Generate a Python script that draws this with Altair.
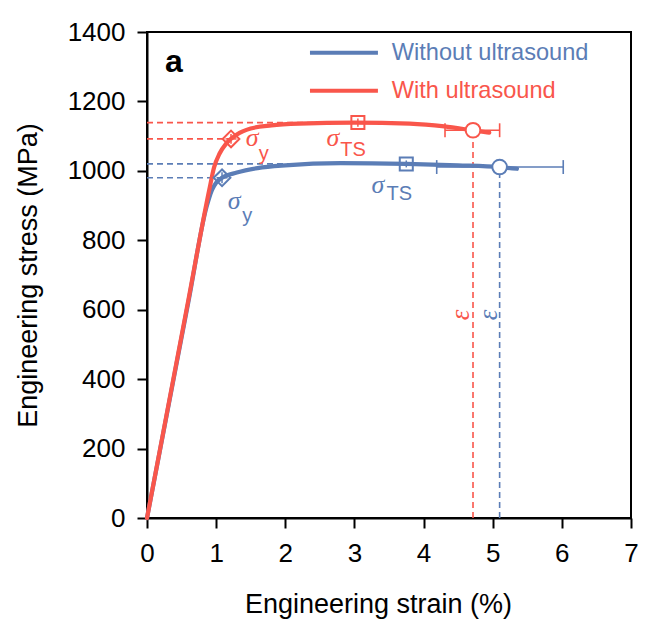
import altair as alt
import pandas as pd

BLUE = "#5b7db6"
RED = "#f9564b"
SANS = "Liberation Sans"
SERIF = "Liberation Serif"

series = ["Without ultrasound", "With ultrasound"]

# stress-strain curves (strain %, stress MPa)
strain_without = [0, 0.3, 0.6, 0.86, 0.94, 1.0, 1.085, 1.3, 1.6, 2.0, 2.8, 3.75, 4.5, 5.1, 5.35]
stress_without = [0, 312, 624, 895, 945, 966, 980, 995, 1008, 1016, 1022, 1020, 1016, 1011, 1006]
strain_with = [0, 0.3, 0.6, 0.9, 0.97, 1.05, 1.15, 1.3, 1.5, 1.8, 2.2, 3.0, 3.8, 4.3, 4.7, 4.95]
stress_with = [0, 315, 630, 945, 1010, 1050, 1080, 1105, 1122, 1131, 1136, 1139, 1136, 1128, 1117, 1110]

# yield points (sigma_y)
sy_strain = [1.085, 1.215]
sy_stress = [980, 1092]
sy_strain_err = [0.08, 0.08]
sy_stress_err = [16, 14]

# tensile strength points (sigma_TS)
ts_strain = [3.75, 3.05]
ts_stress = [1020, 1139]
ts_strain_err = [0.08, 0.08]
ts_stress_err = [10, 12]

# fracture points (epsilon)
ef_strain = [5.1, 4.715]
ef_stress = [1011, 1117]
ef_lo = [4.19, 4.31]
ef_hi = [6.02, 5.10]

x_ticks = [0, 1, 2, 3, 4, 5, 6, 7]
y_ticks = [0, 200, 400, 600, 800, 1000, 1200, 1400]

color = alt.Color("series:N", scale=alt.Scale(domain=series, range=[BLUE, RED]), legend=None)
xs = alt.Scale(domain=[0, 7], nice=False, zero=False)
ys = alt.Scale(domain=[0, 1400], nice=False, zero=False)

curve_rows = [{"series": series[0], "strain": a, "stress": b} for a, b in zip(strain_without, stress_without)]
curve_rows += [{"series": series[1], "strain": a, "stress": b} for a, b in zip(strain_with, stress_with)]
curves = pd.DataFrame(curve_rows)


def pts(xv, yv, xe, ye):
    return pd.DataFrame({"series": series, "x": xv, "y": yv,
                         "xlo": [a - e for a, e in zip(xv, xe)], "xhi": [a + e for a, e in zip(xv, xe)],
                         "ylo": [a - e for a, e in zip(yv, ye)], "yhi": [a + e for a, e in zip(yv, ye)],
                         "zero": [0, 0]})


sy = pts(sy_strain, sy_stress, sy_strain_err, sy_stress_err)
ts = pts(ts_strain, ts_stress, ts_strain_err, ts_stress_err)
CAP = 20
ef = pd.DataFrame({"series": series, "x": ef_strain, "y": ef_stress, "lo": ef_lo, "hi": ef_hi,
                   "zero": [0, 0],
                   "clo": [v - CAP for v in ef_stress], "chi": [v + CAP for v in ef_stress]})

X = lambda f: alt.X(f, scale=xs, axis=alt.Axis(values=x_ticks, format="d", title="Engineering strain (%)",
                                              titleX=231, titleY=94, titleBaseline="alphabetic",
                                              titleAlign="center", labelFlush=False))
Y = lambda f: alt.Y(f, scale=ys, axis=alt.Axis(values=y_ticks, format="d", title="Engineering stress (MPa)",
                                              titleX=-111, titleY=243, titleAngle=270,
                                              titleBaseline="alphabetic", titleAlign="center"))

dash = dict(strokeDash=[6, 4], strokeWidth=1.6)
layers = []
# dashed guides
for d in (sy, ts):
    layers.append(alt.Chart(d).mark_rule(**dash).encode(x=X("zero:Q"), x2="x:Q", y=Y("y:Q"), color=color))
layers.append(alt.Chart(ef).mark_rule(**dash).encode(x=X("x:Q"), y=Y("zero:Q"), y2="y:Q", color=color))

# curves
for s in series:
    layers.append(alt.Chart(curves).transform_filter(alt.datum.series == s)
                  .mark_line(strokeWidth=4.2, interpolate="monotone", strokeCap="round")
                  .encode(x=X("strain:Q"), y=Y("stress:Q"), color=color))

# small error bars on yield and TS markers
for d in (sy, ts):
    layers.append(alt.Chart(d).mark_rule(strokeWidth=1.5).encode(x=X("xlo:Q"), x2="xhi:Q", y=Y("y:Q"), color=color))
    layers.append(alt.Chart(d).mark_rule(strokeWidth=1.5).encode(x=X("x:Q"), y=Y("ylo:Q"), y2="yhi:Q", color=color))

# fracture error bars
layers.append(alt.Chart(ef).mark_rule(strokeWidth=1.6).encode(x=X("lo:Q"), x2="hi:Q", y=Y("y:Q"), color=color))
for c in ("lo", "hi"):
    layers.append(alt.Chart(ef).mark_rule(strokeWidth=1.6).encode(x=X(f"{c}:Q"), y=Y("clo:Q"), y2="chi:Q", color=color))

# markers
layers.append(alt.Chart(sy).mark_point(shape="diamond", size=280, filled=False, strokeWidth=2, opacity=1)
              .encode(x=X("x:Q"), y=Y("y:Q"), color=color))
layers.append(alt.Chart(ts).mark_point(shape="square", size=170, filled=False, strokeWidth=2, opacity=1)
              .encode(x=X("x:Q"), y=Y("y:Q"), color=color))
layers.append(alt.Chart(ef).mark_point(shape="circle", size=215, filled=False, fill="white", fillOpacity=1,
                                       strokeWidth=2, opacity=1)
              .encode(x=X("x:Q"), y=Y("y:Q"), stroke=alt.Stroke("series:N", scale=alt.Scale(domain=series, range=[BLUE, RED]), legend=None)))

# annotation labels
sig = pd.DataFrame({"series": [series[1], series[1], series[0], series[0]],
                    "x": [1.52, 2.69, 1.26, 3.34], "y": [1095, 1095, 913, 959]})
sub = pd.DataFrame({"series": [series[1], series[1], series[0], series[0]],
                    "t": ["y", "TS", "y", "TS"],
                    "x": [1.69, 2.98, 1.45, 3.65], "y": [1050, 1060, 870, 933]})
eps = pd.DataFrame({"series": [series[1], series[0]], "x": [4.54, 4.94], "y": [585, 585]})

layers.append(alt.Chart(sig).mark_text(text="σ", font=SERIF, fontStyle="italic", fontSize=26,
                                       align="center", baseline="middle")
              .encode(x=X("x:Q"), y=Y("y:Q"), color=color))
layers.append(alt.Chart(sub).mark_text(font=SANS, fontSize=20, align="center", baseline="middle")
              .encode(x=X("x:Q"), y=Y("y:Q"), text="t:N", color=color))
layers.append(alt.Chart(eps).mark_text(text="ε", font=SERIF, fontStyle="italic", fontSize=27, angle=270,
                                       align="center", baseline="middle")
              .encode(x=X("x:Q"), y=Y("y:Q"), color=color))

# legend
leg = pd.DataFrame({"series": series, "x0": [2.357, 2.357], "x1": [3.34, 3.34], "tx": [3.54, 3.54],
                    "y": [1340, 1231]})
layers.append(alt.Chart(leg).mark_rule(strokeWidth=4).encode(x=X("x0:Q"), x2="x1:Q", y=Y("y:Q"), color=color))
layers.append(alt.Chart(leg).mark_text(font=SANS, fontSize=23.6, align="left", baseline="middle")
              .encode(x=X("tx:Q"), y=Y("y:Q"), text="series:N", color=color))

panel = pd.DataFrame({"t": ["a"], "x": [0.39], "y": [1314]})
layers.append(alt.Chart(panel).mark_text(font=SANS, fontSize=32, fontWeight="bold", align="center",
                                         baseline="middle", color="black")
              .encode(x=X("x:Q"), y=Y("y:Q"), text="t:N"))

chart = alt.layer(*layers).properties(
    width=484, height=486,
    padding={"left": 139, "top": 24, "right": 20, "bottom": 105},
    autosize=alt.AutoSizeParams(type="none"),
).configure_view(stroke="black", strokeWidth=2).configure_axis(
    domainColor="black", domainWidth=2, tickColor="black", tickWidth=2, tickSize=10,
    labelFont=SANS, labelFontSize=26, labelColor="black", labelPadding=12,
    titleFont=SANS, titleFontSize=27, titleFontWeight="normal", titleColor="black", grid=False,
)

chart.save("out.html", embed_options={"renderer": "svg", "actions": False})
